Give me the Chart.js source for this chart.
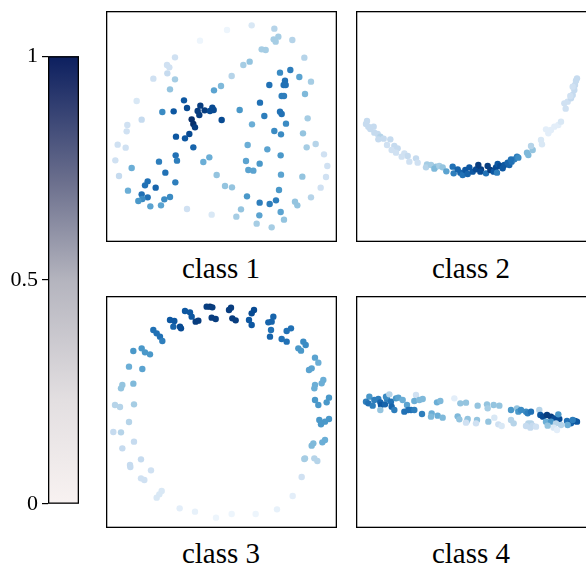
<!DOCTYPE html>
<html>
<head>
<meta charset="utf-8">
<script src="https://cdn.jsdelivr.net/npm/chart.js@4"></script>
<style>
  body { margin: 0; background: #fff; width: 586px; height: 568px; overflow: hidden; position: relative; }
  canvas { position: absolute; }
  .ttl { position: absolute; font-family: "Liberation Serif", "Times New Roman", serif; font-size: 29px; color: #000; text-align: center; width: 200px; line-height: 1; }
</style>
</head>
<body>
<canvas id="cbar" style="left:0;top:39px" width="80" height="482"></canvas>
<canvas id="p1" style="left:106px;top:11px" width="231" height="231"></canvas>
<canvas id="p2" style="left:356px;top:11px" width="232" height="231"></canvas>
<canvas id="p3" style="left:106px;top:296px" width="231" height="232"></canvas>
<canvas id="p4" style="left:356px;top:296px" width="232" height="232"></canvas>
<div class="ttl" style="left:121px;top:254px">class 1</div>
<div class="ttl" style="left:371px;top:254px">class 2</div>
<div class="ttl" style="left:121px;top:539px">class 3</div>
<div class="ttl" style="left:371px;top:539px">class 4</div>
<script>
// colorbar
const barTicks = [0, 0.5, 1];

// class 1 (coordinates, y grows downward)
const c1X = [440,366,285,508,520,506,512,562,470,482,598,434,415,210,186,193,187,210,145,380,348,327,195,525,556,583,618,540,536,542,493,600,530,537,95,237,246,286,278,283,299,315,322,326,350,206,172,110,260,265,270,404,465,478,525,530,543,441,608,67,65,213,240,253,508,528,594,38,62,265,428,487,605,632,212,216,162,313,295,31,80,527,423,464,430,445,657,667,181,42,335,528,592,663,128,120,211,152,360,381,647,69,522,110,128,112,100,195,178,426,618,513,464,494,570,577,136,168,246,408,527,320,394,463,537,455,500];
const c1Y = [46,60,92,56,80,88,95,90,118,120,143,155,165,142,165,172,190,208,206,198,228,241,238,188,180,201,215,212,225,225,225,252,258,258,273,271,294,287,303,315,301,303,293,300,330,304,306,329,328,342,352,300,278,318,305,312,341,343,325,345,364,380,385,372,363,373,370,404,413,412,405,418,412,402,436,452,455,442,456,451,474,436,453,461,480,482,433,468,488,498,495,494,500,501,514,526,517,533,528,532,533,542,540,553,562,567,573,561,568,559,562,571,578,582,575,586,589,586,597,598,606,614,620,616,629,641,652];
const c1V = [0.15,0.05,0.05,0.3,0.35,0.35,0.35,0.3,0.35,0.35,0.3,0.4,0.35,0.2,0.2,0.2,0.25,0.35,0.2,0.3,0.45,0.55,0.4,0.65,0.7,0.55,0.35,0.75,0.75,0.75,0.75,0.45,0.7,0.7,0.15,0.85,0.9,0.95,0.95,0.95,0.95,0.9,0.9,0.9,0.9,0.85,0.65,0.25,1,1,0.95,0.6,0.75,0.7,0.75,0.75,0.65,0.5,0.35,0.2,0.2,0.85,0.85,0.9,0.65,0.65,0.4,0.2,0.2,0.8,0.5,0.55,0.35,0.3,0.75,0.7,0.7,0.5,0.5,0.2,0.5,0.6,0.55,0.6,0.55,0.55,0.2,0.2,0.75,0.25,0.4,0.55,0.4,0.2,0.75,0.75,0.7,0.8,0.4,0.4,0.2,0.5,0.6,0.75,0.75,0.65,0.6,0.65,0.65,0.6,0.3,0.7,0.7,0.7,0.4,0.4,0.55,0.55,0.2,0.4,0.55,0.15,0.35,0.55,0.4,0.35,0.35];

// class 2
const c2X = [38,35,42,58,48,60,70,78,72,88,108,98,120,112,130,125,150,160,142,165,185,190,218,215,230,245,240,255,265,276,295,298,310,318,325,333,345,340,355,365,372,380,378,395,400,408,418,425,430,438,428,445,450,460,465,472,480,488,470,492,518,522,535,530,563,560,582,590,575,600,612,620,634,630,640,650,655,660,662,665,668,655,648];
const c2Y = [333,342,350,350,357,368,372,380,388,386,388,405,408,420,415,428,430,438,440,455,445,458,463,472,465,470,476,468,472,484,470,490,478,488,495,480,472,492,485,478,465,478,485,490,468,480,485,472,462,468,488,475,465,458,465,455,448,440,448,443,428,435,420,408,403,390,370,360,358,350,345,335,296,280,275,265,255,240,225,212,205,230,258];
const c2V = [0.25,0.25,0.25,0.25,0.25,0.25,0.25,0.3,0.25,0.25,0.25,0.2,0.25,0.2,0.25,0.2,0.2,0.25,0.2,0.2,0.25,0.2,0.35,0.3,0.35,0.4,0.45,0.35,0.4,0.55,0.75,0.7,0.8,0.8,0.75,0.85,0.85,0.8,0.85,0.9,0.95,0.95,0.9,0.75,0.95,0.95,0.85,0.9,0.85,0.9,0.7,0.85,0.85,0.8,0.8,0.75,0.7,0.7,0.75,0.65,0.45,0.45,0.4,0.3,0.15,0.15,0.1,0.1,0.1,0.1,0.1,0.15,0.2,0.2,0.2,0.25,0.25,0.25,0.25,0.25,0.25,0.2,0.2];

// class 3
const c3X = [315,305,322,378,372,447,440,432,440,240,255,260,195,208,205,225,228,272,280,320,332,382,392,505,500,490,498,495,558,545,530,545,145,155,165,172,595,602,580,588,110,85,120,135,630,640,612,620,72,112,655,650,630,628,52,48,85,672,665,630,640,30,45,87,672,660,648,643,72,25,48,660,652,625,620,87,52,600,598,628,637,108,75,76,138,590,108,118,170,163,155,563,224,270,333,380,452,516];
const c3Y = [35,35,37,38,45,45,55,75,90,48,52,65,75,78,95,95,100,80,77,68,72,70,76,65,80,82,105,125,100,108,132,140,105,115,125,138,140,150,160,167,160,168,172,178,188,203,225,220,215,222,255,265,270,280,270,280,266,308,322,315,330,330,336,328,372,380,388,375,381,411,412,435,442,445,452,440,460,490,492,490,498,493,510,516,526,546,550,555,588,598,608,603,640,650,668,657,657,643];
const c3V = [1,0.95,0.95,0.95,0.95,0.9,0.9,0.85,0.85,0.85,0.85,0.85,0.85,0.85,0.8,0.9,0.9,0.95,0.95,0.95,0.95,0.95,0.95,0.8,0.8,0.8,0.75,0.8,0.75,0.75,0.75,0.75,0.75,0.75,0.75,0.7,0.65,0.65,0.6,0.6,0.6,0.6,0.6,0.6,0.55,0.5,0.55,0.55,0.5,0.55,0.5,0.5,0.5,0.5,0.4,0.4,0.45,0.6,0.6,0.6,0.6,0.3,0.3,0.35,0.6,0.6,0.6,0.6,0.3,0.25,0.3,0.5,0.5,0.45,0.45,0.25,0.25,0.35,0.35,0.3,0.3,0.25,0.25,0.25,0.2,0.2,0.2,0.2,0.15,0.15,0.15,0.1,0.1,0.08,0.05,0.05,0.05,0.08];

// class 4
const c4X = [45,35,42,55,60,72,78,80,92,98,95,105,110,112,120,125,132,145,158,150,162,170,180,78,185,180,195,205,203,232,230,248,258,250,265,300,318,335,310,315,338,340,335,368,370,365,398,400,418,435,402,420,432,442,470,470,478,488,492,500,515,520,530,522,530,535,528,545,515,555,558,566,578,590,600,615,612,575,590,605,620,638,650,662,668,640,655,598,608,580];
const c4Y = [305,320,325,332,315,312,322,330,328,312,305,298,320,335,345,310,308,315,330,350,345,345,345,345,300,318,315,312,357,355,365,322,318,362,368,310,325,323,364,373,378,372,383,375,332,385,328,340,330,332,380,368,388,393,345,375,385,340,350,345,350,355,350,385,385,392,398,395,393,345,360,365,360,365,370,372,358,380,380,385,390,378,385,378,380,390,375,398,405,392];
const c4V = [0.6,0.7,0.75,0.7,0.7,0.7,0.8,0.85,0.8,0.7,0.65,0.3,0.75,0.8,0.7,0.6,0.55,0.5,0.55,0.75,0.75,0.75,0.7,0.4,0.2,0.5,0.45,0.45,0.7,0.5,0.45,0.5,0.45,0.5,0.45,0.1,0.4,0.4,0.45,0.4,0.3,0.4,0.2,0.4,0.4,0.2,0.4,0.35,0.4,0.4,0.4,0.15,0.2,0.15,0.6,0.3,0.3,0.4,0.6,0.65,0.65,0.7,0.75,0.3,0.3,0.25,0.25,0.2,0.25,0.3,0.85,0.9,0.95,0.95,0.9,0.9,0.6,0.5,0.6,0.3,0.3,0.75,0.8,0.85,0.85,0.5,0.7,0.15,0.1,0.4];

// Blues colormap
const blues = [[0,247,251,255],[0.125,222,235,247],[0.25,198,219,239],[0.375,158,202,225],[0.5,107,174,214],
  [0.625,66,146,198],[0.75,33,113,181],[0.875,8,81,156],[1,8,48,107]];
function bluesColor(v) {
  for (let i = 1; i < blues.length; i++) {
    if (v <= blues[i][0]) {
      const a = blues[i-1], b = blues[i], t = (v - a[0]) / (b[0] - a[0]);
      const c = [1,2,3].map(k => Math.round(a[k] + (b[k] - a[k]) * t));
      return 'rgb(' + c.join(',') + ')';
    }
  }
  return 'rgb(8,48,107)';
}

const frame = {
  id: 'frame',
  afterDraw(chart) {
    const a = chart.chartArea, ctx = chart.ctx;
    ctx.save();
    ctx.strokeStyle = '#000';
    ctx.lineWidth = 1.3;
    ctx.strokeRect(a.left + 0.65, a.top + 0.65, a.right - a.left - 1.3, a.bottom - a.top - 1.3);
    ctx.restore();
  }
};

function panel(id, xs, ys, vs, xr, yr) {
  const pts = xs.map((x, i) => ({x: x, y: ys[i]}));
  new Chart(document.getElementById(id), {
    type: 'scatter',
    data: {
      datasets: [{
        data: pts,
        backgroundColor: vs.map(bluesColor),
        borderWidth: 0,
        pointRadius: 3.2,
        clip: false
      }]
    },
    options: {
      responsive: false,
      animation: false,
      events: [],
      layout: { padding: 0, autoPadding: false },
      plugins: { legend: { display: false }, tooltip: { enabled: false } },
      scales: {
        x: { display: false, min: xr[0], max: xr[1] },
        y: { display: false, min: yr[0], max: yr[1], reverse: true }
      }
    },
    plugins: [frame]
  });
}

panel('p1', c1X, c1Y, c1V, [3, 696], [3, 696]);
panel('p2', c2X, c2Y, c2V, [5, 701], [3, 696]);
panel('p3', c3X, c3Y, c3V, [3, 696], [3, 699]);
panel('p4', c4X, c4Y, c4V, [5, 701], [3, 699]);

// colorbar
new Chart(document.getElementById('cbar'), {
  type: 'bar',
  data: {
    labels: ['v'],
    datasets: [{
      data: [1],
      categoryPercentage: 1,
      barPercentage: 1,
      borderWidth: 0,
      backgroundColor(ctx) {
        const a = ctx.chart.chartArea;
        if (!a) return '#ccc';
        const g = ctx.chart.ctx.createLinearGradient(0, a.bottom, 0, a.top);
        g.addColorStop(0, '#f8f2f1');
        g.addColorStop(0.23, '#e3dfe1');
        g.addColorStop(0.5, '#b4b4be');
        g.addColorStop(0.72, '#6b6f8d');
        g.addColorStop(1, '#0c1f5f');
        return g;
      }
    }]
  },
  options: {
    responsive: false,
    animation: false,
    events: [],
    layout: { padding: { top: 10, bottom: 11, right: 1, left: 0 }, autoPadding: false },
    plugins: { legend: { display: false }, tooltip: { enabled: false } },
    scales: {
      x: { display: false },
      y: {
        min: 0, max: 1,
        afterFit(s) { s.width = 48; },
        afterBuildTicks(s) { s.ticks = barTicks.map(v => ({value: v})); },
        border: { display: false },
        grid: { drawOnChartArea: false, drawTicks: true, tickLength: 6, color: '#000', lineWidth: 1.2 },
        ticks: {
          color: '#000', padding: 4,
          font: { family: '"Liberation Serif", "Times New Roman", serif', size: 22 },
          callback: v => String(v)
        }
      }
    }
  },
  plugins: [frame]
});
</script>
</body>
</html>
